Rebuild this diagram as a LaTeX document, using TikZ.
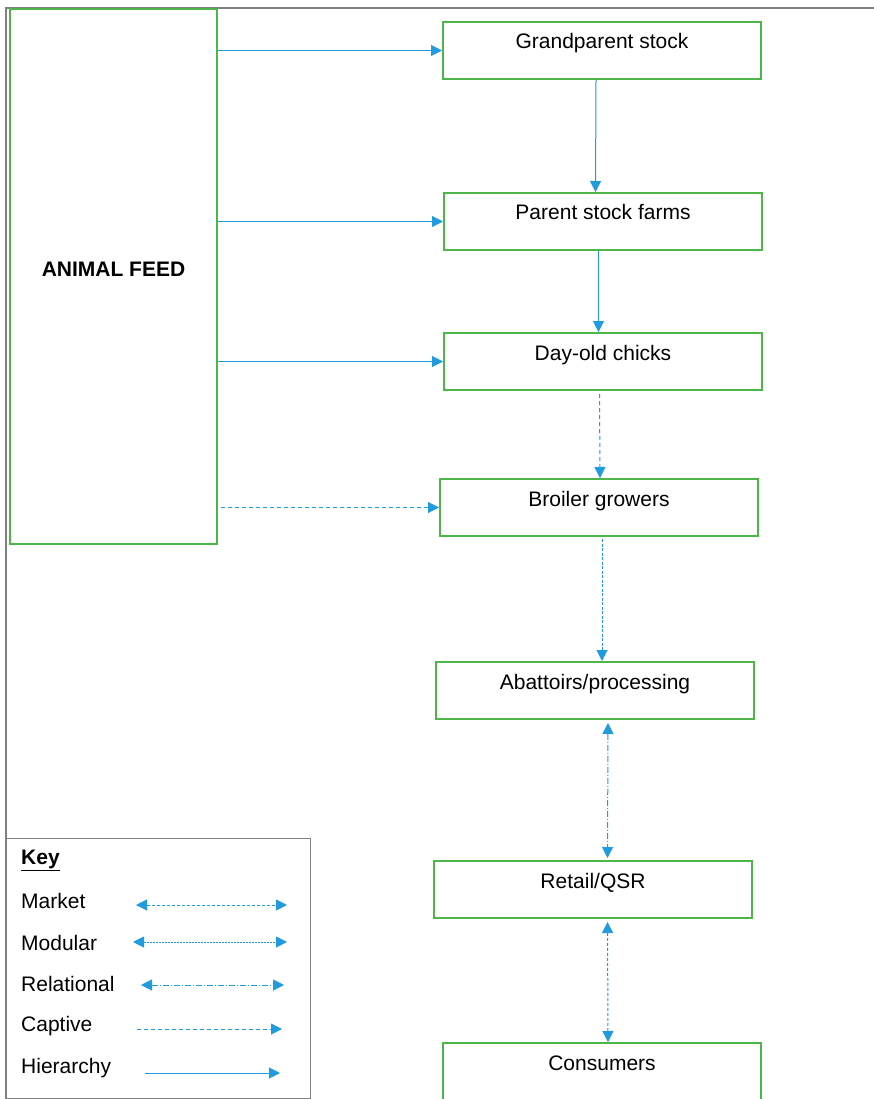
\documentclass[tikz,border=0pt]{standalone}
\usepackage{fontspec}
\setmainfont{Liberation Sans}
\usetikzlibrary{arrows.meta}
\definecolor{boxgreen}{RGB}{77,182,72}
\definecolor{flowblue}{RGB}{31,155,222}
\definecolor{framegray}{RGB}{128,128,128}
\newcommand\diafont{\fontsize{21}{25}\selectfont}
\begin{document}
\begin{tikzpicture}[x=1pt,y=-1pt,font=\diafont,
  stage/.style={draw=boxgreen, line width=2pt, minimum width=318pt, minimum height=57pt,
    inner ysep=0pt, inner xsep=0pt, text height=27pt, text depth=30pt, anchor=north west},
  feedbox/.style={draw=boxgreen, line width=2pt, minimum width=207pt, minimum height=535pt,
    inner sep=0pt, text height=15pt, text depth=15pt, anchor=north west, font=\diafont\bfseries},
  keylabel/.style={anchor=west, inner sep=0pt},
  tipA/.tip={Triangle[length=11pt,width=11pt]},
  arr/.style={flowblue, line width=1pt, -tipA},
  biarr/.style={flowblue, line width=1pt, tipA-tipA},
  hier/.style={arr},
  captive/.style={arr, dash pattern=on 4pt off 3pt},
  market/.style={biarr, dash pattern=on 3pt off 2pt},
  modular/.style={biarr, dash pattern=on 2pt off 1pt},
  relational/.style={biarr, dash pattern=on 6pt off 2pt on 1pt off 2pt}]
\useasboundingbox (0,0) rectangle (874,1099);
\fill[white] (0,0) rectangle (874,1099);
% frame
\draw[framegray, line width=1.2pt] (874,8) -- (6,8) -- (6,1099);
% main nodes
\node[feedbox] (feed) at (9,8) {ANIMAL FEED};
\node[stage] (gp) at (442,21) {Grandparent stock};
\node[stage] (ps) at (443,192) {Parent stock farms};
\node[stage] (doc) at (443,332) {Day-old chicks};
\node[stage] (bg) at (439,478) {Broiler growers};
\node[stage] (ab) at (435,661) {Abattoirs/processing};
\node[stage] (rt) at (433,860) {Retail/QSR};
\node[stage, minimum height=56pt] (co) at (442,1042) {Consumers};
% feed connectors
\draw[hier] (feed.east |- gp.west) -- (gp.west);
\draw[hier] (feed.east |- ps.west) -- (ps.west);
\draw[hier] (feed.east |- doc.west) -- (doc.west);
\draw[captive, shorten <=3pt] (feed.east |- bg.west) -- (bg.west);
% vertical chain
\draw[hier] ([xshift=-6pt]gp.south) -- ([xshift=-7.5pt]ps.north);
\draw[hier] ([xshift=-4.5pt]ps.south) -- ([xshift=-4.5pt]doc.north);
\draw[captive, shorten <=3pt] ([xshift=-3.5pt]doc.south) -- ([xshift=1pt]bg.north);
\draw[arr, dash pattern=on 3pt off 1.5pt, shorten <=2pt] ([xshift=3pt]bg.south) -- ([xshift=7pt]ab.north);
\draw[relational, shorten <=3pt, shorten >=2pt] ([xshift=13pt]ab.south) -- ([xshift=14.5pt]rt.north);
\draw[market, shorten <=3pt] ([xshift=14.5pt]rt.south) -- ([xshift=6pt]co.north);
% key
\draw[framegray, line width=1pt] (6,838) rectangle (310,1098);
\node[keylabel, font=\diafont\bfseries] (keyt) at (21,860) {\underline{Key}};
\node[keylabel] (lmarket) at (21,901) {Market};
\node[keylabel] (lmodular) at (21,943) {Modular};
\node[keylabel] (lrel) at (21,984) {Relational};
\node[keylabel] (lcapt) at (21,1026) {Captive};
\node[keylabel] (lhier) at (21,1068) {Hierarchy};
\coordinate (ma) at (136,905); \coordinate (mb) at (287,905);
\coordinate (moa) at (133,942); \coordinate (mob) at (287,942);
\coordinate (ra) at (141,985); \coordinate (rb) at (284,985);
\coordinate (ca) at (137,1029); \coordinate (cb) at (282,1029);
\coordinate (ha) at (145,1073); \coordinate (hb) at (280,1073);
\draw[market] (ma) -- (mb);
\draw[modular] (moa) -- (mob);
\draw[relational] (ra) -- (rb);
\draw[captive] (ca) -- (cb);
\draw[hier] (ha) -- (hb);
\end{tikzpicture}
\end{document}
